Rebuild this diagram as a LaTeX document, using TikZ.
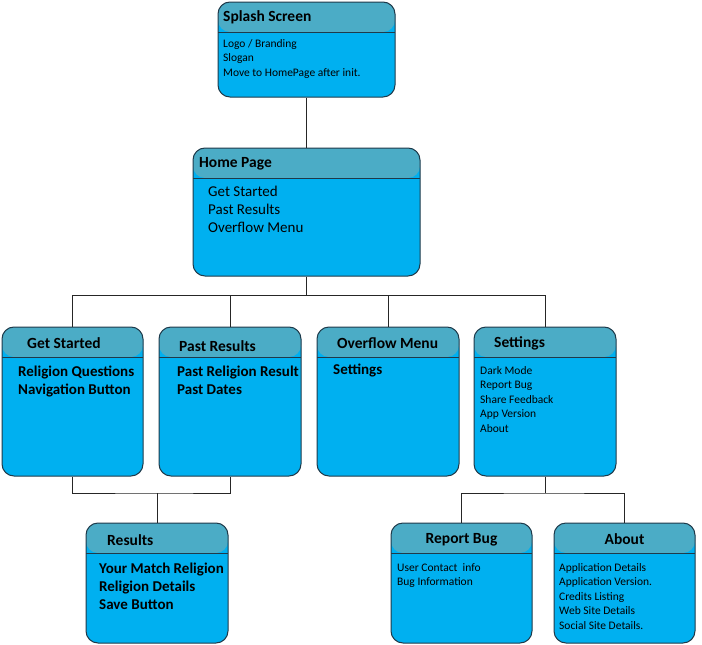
\documentclass[tikz,border=0pt]{standalone}
\usepackage{fontspec}
\setmainfont{Carlito}
\definecolor{bodyc}{HTML}{00B0F0}
\definecolor{headc}{HTML}{4BACC6}
\definecolor{edgec}{HTML}{1F3A4A}
\tikzset{
  uibox/.style={draw=edgec, line width=1pt, fill=bodyc, rounded corners=12pt, inner sep=0pt,
    path picture={\fill[headc] ([yshift=1pt]path picture bounding box.north west) rectangle ([yshift=-30pt]path picture bounding box.north east);
      \draw[edgec, line width=1pt] ([yshift=-30pt]path picture bounding box.north west) -- ([yshift=-30pt]path picture bounding box.north east);}},
  ttl/.style={font=\fontsize{15.5}{18}\selectfont\bfseries, inner sep=0pt, anchor=west},
  small/.style={font=\fontsize{11.5}{14.5}\selectfont, inner sep=0pt, anchor=north west, align=left},
  big/.style={font=\fontsize{15}{18}\selectfont, inner sep=0pt, anchor=north west, align=left},
  bigb/.style={font=\fontsize{15}{18}\selectfont\bfseries, inner sep=0pt, anchor=north west, align=left},
  conn/.style={draw=black!85, line width=1pt}
}
\begin{document}
\begin{tikzpicture}[x=1pt,y=-1pt]
\useasboundingbox (0,0) rectangle (702,645);
% boxes
\node[uibox, minimum width=177pt, minimum height=95pt] (splash) at (306.5,49.5) {};
\node[uibox, minimum width=227pt, minimum height=128pt] (home) at (306.5,212) {};
\node[uibox, minimum width=141pt, minimum height=149pt] (gs) at (72.5,401.5) {};
\node[uibox, minimum width=142pt, minimum height=149pt] (pr) at (230,401.5) {};
\node[uibox, minimum width=142pt, minimum height=149pt] (om) at (388,401.5) {};
\node[uibox, minimum width=142pt, minimum height=149pt] (st) at (545,401.5) {};
\node[uibox, minimum width=142pt, minimum height=120pt] (res) at (157,583) {};
\node[uibox, minimum width=141pt, minimum height=120pt] (rb) at (461.5,583) {};
\node[uibox, minimum width=141pt, minimum height=120pt] (ab) at (624.5,583) {};
% titles
\node[ttl] (splasht) at (223,17) {Splash Screen};
\node[ttl] (homet) at (199,164) {Home Page};
\node[ttl] (gst) at (27,343) {Get Started};
\node[ttl] (prt) at (179,346) {Past Results};
\node[ttl] (omt) at (337,343) {Overflow Menu};
\node[ttl] (stt) at (494,343) {Settings};
\node[ttl] (rest) at (107,540) {Results};
\node[ttl, anchor=center] (rbt) at (461.5,539.5) {Report Bug};
\node[ttl, anchor=center] (abt) at (624.5,539.5) {About};
% contents
\node[small] (splashc) at (223,39) {Logo / Branding\\Slogan\\Move to HomePage after init.};
\node[big] (homec) at (208,186) {Get Started\\Past Results\\Overflow Menu};
\node[bigb] (gsc) at (18,366) {Religion Questions\\Navigation Button};
\node[bigb] (prc) at (177,366) {Past Religion Result\\Past Dates};
\node[bigb] (omc) at (333,364) {Settings};
\node[small] (stc) at (480,366) {Dark Mode\\Report Bug\\Share Feedback\\App Version\\About};
\node[bigb] (resc) at (99,563) {Your Match Religion\\Religion Details\\Save Button};
\node[small] (rbc) at (397,563) {User Contact~ info\\Bug Information};
\node[small] (abc) at (559,563) {Application Details\\Application Version.\\Credits Listing\\Web Site Details\\Social Site Details.};
% connectors
\coordinate (j1) at (306.5,295);
\coordinate (j2) at (157,493);
\coordinate (j3) at (545,493);
\draw[conn] (splash.south) -- (home.north);
\draw[conn] (home.south) -- (j1);
\draw[conn] (gs.north) |- (j1);
\draw[conn] (pr.north) |- (j1);
\draw[conn] (om.north) |- (j1);
\draw[conn] (st.north) |- (j1);
\draw[conn] (gs.south) |- (j2) -| (pr.south);
\draw[conn] (j2) -- (res.north);
\draw[conn] (st.south) -- (j3);
\draw[conn] (rb.north) |- (j3) -| (ab.north);
\end{tikzpicture}
\end{document}
